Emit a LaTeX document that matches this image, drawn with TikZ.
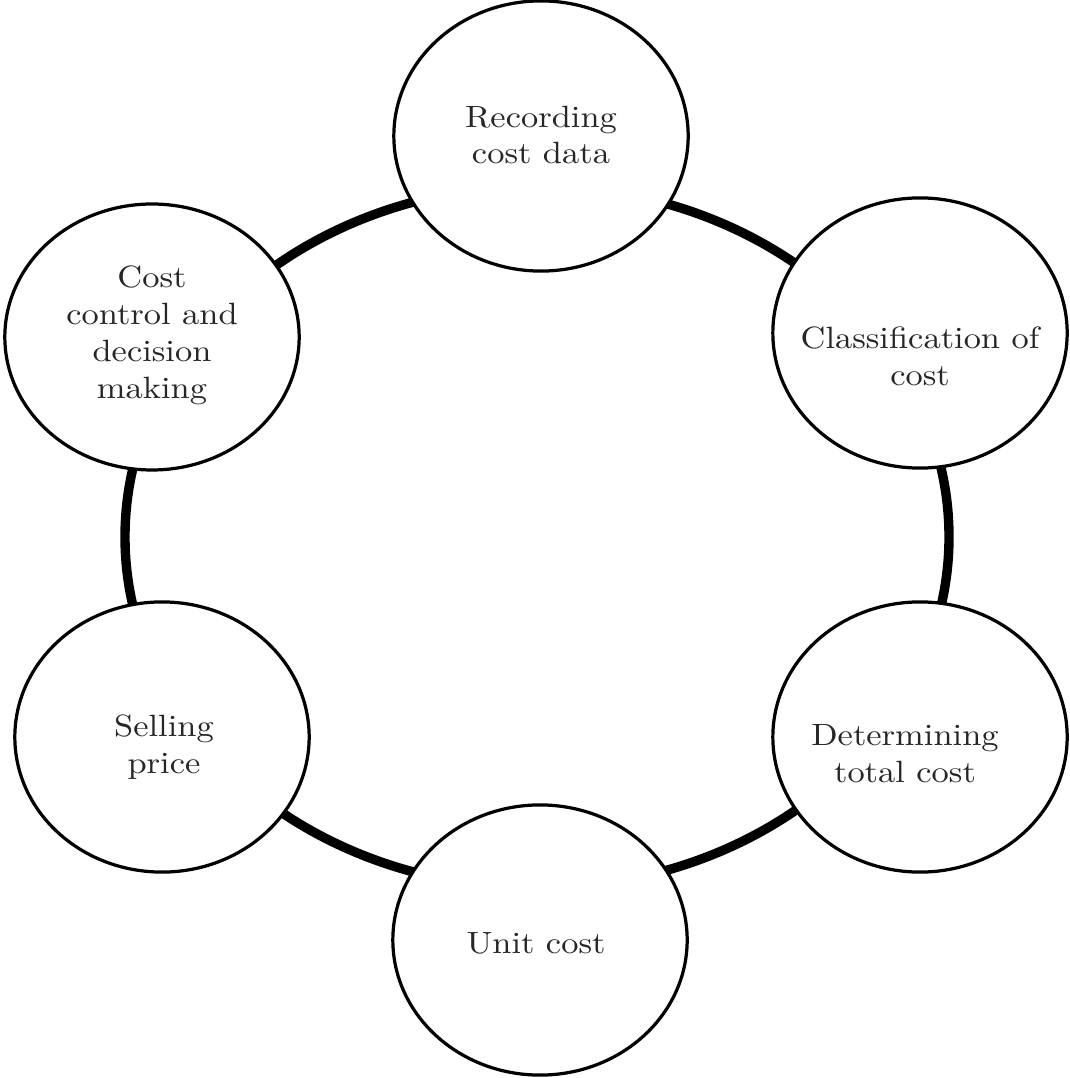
\documentclass[tikz,border=0pt]{standalone}
\usepackage{fontspec}
\setmainfont{Latin Modern Roman}[FakeStretch=1.12]
\usetikzlibrary{shapes.geometric}
\tikzset{
  cell/.style={draw=black,line width=1.1pt,fill=white,ellipse,minimum width=3.53cm,minimum height=3.24cm,inner sep=0pt},
  txt/.style={align=center,inner sep=0pt,text=black!85,font=\fontsize{10.5}{12.6}\selectfont},
  ring/.style={line width=3.2pt,black}
}
\begin{document}
\begin{tikzpicture}[x=0.012cm,y=-0.012cm]
\useasboundingbox (0,0) rectangle (1070,1078);
% ring behind the six steps
\coordinate (mid) at (537,537);
\draw[ring] (mid) ellipse [x radius=412, y radius=351];
% steps
\node[cell] (rec) at (541,136) {};
\node[cell] (cls) at (920,333) {};
\node[cell] (tot) at (920,737) {};
\node[cell] (unit) at (540,940) {};
\node[cell] (sell) at (162,737) {};
\node[cell,minimum height=3.19cm] (ctrl) at (152,337) {};
% labels
\node[txt] (rec-t) at (541,135) {Recording\\cost data};
\node[txt] (cls-t) at (920,356) {Classification of\\cost};
\node[txt] (tot-t) at (905,754) {Determining\\total cost};
\node[txt] (unit-t) at (536,943) {Unit cost};
\node[txt] (sell-t) at (164,747) {Selling\\price};
\node[txt] (ctrl-t) at (152,335) {Cost\\control and\\decision\\making};
\end{tikzpicture}
\end{document}
